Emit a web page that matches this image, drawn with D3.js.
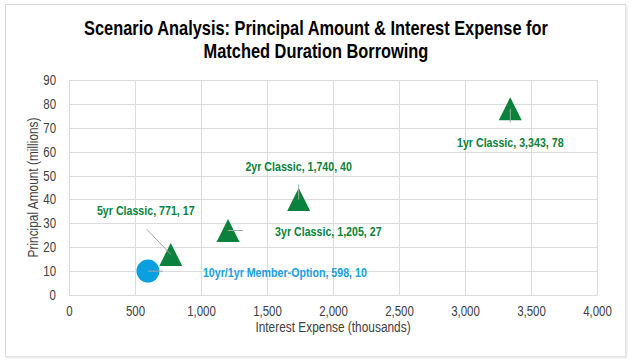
<!DOCTYPE html>
<html><head><meta charset="utf-8">
<script src="https://cdn.jsdelivr.net/npm/d3@7/dist/d3.min.js"></script>
<style>body{margin:0;background:#fff}svg{display:block}</style>
</head><body>
<script>
const names = ["10yr/1yr Member-Option","5yr Classic","3yr Classic","2yr Classic","1yr Classic"];
const interest = [598, 771, 1205, 1740, 3343];
const principal = [10, 17, 27, 40, 78];
const shapes = ["circle","triangle","triangle","triangle","triangle"];
const xTicks = [0,500,1000,1500,2000,2500,3000,3500,4000];
const yTicks = [0,10,20,30,40,50,60,70,80,90];

// label placement (px offsets from the marker) and anchors
const labelDx = [55, -25, 47, 0, 0];
const labelDy = [1, -44, 1, -33, 34];
const labelAnchor = ["start","middle","start","middle","middle"];
const leaders = [[0,0,15,0],[-24,-25,0,0],[0,0,15,0],[0,-15,0,0],[0,0,0,14]];

const W=632,H=361, NX=0.82;
const font = "'Liberation Sans',Arial,sans-serif";
const svg = d3.select("body").append("svg").attr("width",W).attr("height",H);
svg.append("rect").attr("x",5.5).attr("y",4.5).attr("width",620).attr("height",352)
  .attr("fill","#fff").attr("stroke","#d9d9d9").attr("stroke-width",1);
svg.append("line").attr("x1",626.5).attr("x2",626.5).attr("y1",5).attr("y2",358).attr("stroke","#ececec").attr("stroke-width",2);
svg.append("line").attr("x1",6).attr("x2",627).attr("y1",357.5).attr("y2",357.5).attr("stroke","#ececec").attr("stroke-width",2);

function ntext(parent, tx, ty, str, o){
  const g = parent.append("g").attr("transform",`translate(${tx},${ty})${o.rot?` rotate(${o.rot})`:""} scale(${NX},1)`);
  return g.append("text").attr("text-anchor",o.anchor||"middle").attr("dy",o.dy||null)
    .attr("font-family",font).attr("font-size",o.size).attr("font-weight",o.bold?"bold":null)
    .attr("fill",o.fill||"#404040").text(str);
}

const x = d3.scaleLinear().domain([0,4000]).range([69,597]);
const y = d3.scaleLinear().domain([0,90]).range([295,80]);

const g = svg.append("g");
g.selectAll("line.v").data(xTicks).join("line").attr("class","v")
  .attr("x1",d=>Math.round(x(d))+0.5).attr("x2",d=>Math.round(x(d))+0.5)
  .attr("y1",y(0)).attr("y2",y(90)).attr("stroke","#dcdcdc");
g.selectAll("line.h").data(yTicks).join("line").attr("class","h")
  .attr("y1",d=>Math.round(y(d))+0.5).attr("y2",d=>Math.round(y(d))+0.5)
  .attr("x1",x(0)).attr("x2",x(4000)).attr("stroke","#dcdcdc");

const xAxis = d3.axisBottom(x).tickValues(xTicks).tickSize(0).tickPadding(11).tickFormat(d3.format(","));
const yAxis = d3.axisLeft(y).tickValues(yTicks).tickSize(0).tickPadding(13);
const xg = svg.append("g").attr("transform",`translate(0,${y(0)})`).call(xAxis);
const yg = svg.append("g").attr("transform",`translate(${x(0)},0)`).call(yAxis);
[xg,yg].forEach(a=>{a.select(".domain").remove();
  a.selectAll("text").attr("font-family",font).attr("font-size",14).attr("fill","#404040");});
xg.selectAll("text").attr("transform",`scale(${NX},1)`);
yg.selectAll("text").attr("x",-13/NX).attr("transform",`scale(${NX},1)`);

ntext(svg,(x(0)+x(4000))/2,332,"Interest Expense (thousands)",{size:14.5});
ntext(svg,38,(y(0)+y(90))/2,"Principal Amount (millions)",{size:14.5,rot:-90});

ntext(svg,316,35,"Scenario Analysis: Principal Amount & Interest Expense for",{size:20,bold:true,fill:"#000"});
ntext(svg,316,58,"Matched Duration Borrowing",{size:20,bold:true,fill:"#000"});

const green="#0b823b", blue="#0aa0e0";
const data = names.map((n,i)=>({n, xv:interest[i], yv:principal[i], s:shapes[i]}));
const mk = svg.append("g");
data.forEach(d=>{
  const px=x(d.xv), py=y(d.yv);
  if(d.s==="circle"){
    mk.append("circle").attr("cx",px).attr("cy",py).attr("r",11.5).attr("fill",blue);
  } else {
    const s=11.5;
    mk.append("path").attr("d",`M${px},${py-s}L${px+s},${py+s}L${px-s},${py+s}Z`).attr("fill",green);
  }
});
data.forEach((d,i)=>{
  const px=x(d.xv), py=y(d.yv), l=leaders[i];
  mk.append("line").attr("x1",px+l[0]).attr("y1",py+l[1]).attr("x2",px+l[2]).attr("y2",py+l[3])
    .attr("stroke","#a6a6a6").attr("stroke-width",1);
});
data.forEach((d,i)=>{
  const px=x(d.xv), py=y(d.yv);
  ntext(mk,px+labelDx[i],py+labelDy[i],`${d.n}, ${d3.format(",")(d.xv)}, ${d.yv}`,
    {size:13,bold:true,anchor:labelAnchor[i],dy:"0.35em",fill:d.s==="circle"?"#1a9fe0":green});
});
</script>
</body></html>
